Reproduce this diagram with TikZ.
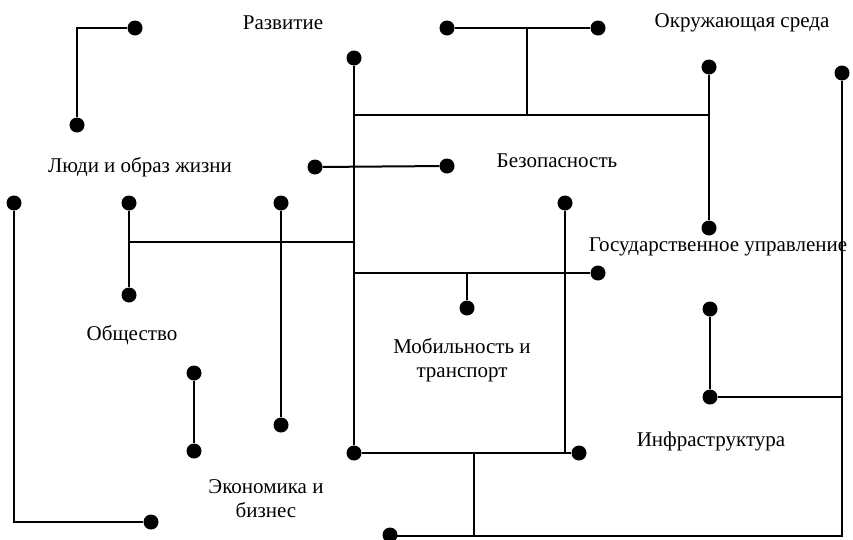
\documentclass[tikz,border=0pt]{standalone}
\usepackage{fontspec}
\setmainfont{Liberation Serif}
\begin{document}
\begin{tikzpicture}[x=1pt,y=-1pt,
  dot/.style={circle,fill=black,inner sep=0pt,minimum size=15pt},
  lbl/.style={font=\fontsize{21}{24}\selectfont,align=center,inner sep=0pt},
  conn/.style={line width=2pt}]
\useasboundingbox (0,0) rectangle (853,539);
% dots
\node[dot] (a) at (135,28) {};
\node[dot] (b) at (77,125) {};
\node[dot] (c) at (354,58) {};
\node[dot] (d) at (354,453) {};
\node[dot] (e) at (447,28) {};
\node[dot] (f) at (598,28) {};
\node[dot] (g) at (709,67) {};
\node[dot] (h) at (709,228) {};
\node[dot] (i) at (842,73) {};
\node[dot] (j) at (315,167) {};
\node[dot] (k) at (447,166) {};
\node[dot] (l) at (14,203) {};
\node[dot] (m) at (151,522) {};
\node[dot] (n) at (129,203) {};
\node[dot] (o) at (129,295) {};
\node[dot] (p) at (281,203) {};
\node[dot] (q) at (281,425) {};
\node[dot] (r) at (565,203) {};
\node[dot] (s) at (598,273) {};
\node[dot] (t) at (467,308) {};
\node[dot] (u) at (710,309) {};
\node[dot] (v) at (710,397) {};
\node[dot] (w) at (194,373) {};
\node[dot] (x) at (194,451) {};
\node[dot] (y) at (579,453) {};
\node[dot] (z) at (390,535) {};
% junction coordinates
\coordinate (ef) at (527,28);
\coordinate (top1) at (527,115);
\coordinate (c1) at (354,115);
\coordinate (g1) at (709,115);
\coordinate (i1) at (842,536);
\coordinate (z1) at (390,536);
\coordinate (n1) at (129,242);
\coordinate (c2) at (354,242);
\coordinate (c3) at (354,273);
\coordinate (t1) at (467,273);
\coordinate (r1) at (565,453);
\coordinate (v1) at (842,397);
\coordinate (d1) at (474,453);
\coordinate (d2) at (474,536);
% connectors
\draw[conn] (b) |- (a);
\draw[conn] (c) -- (d);
\draw[conn] (e) -- (f);
\draw[conn] (ef) -- (top1);
\draw[conn] (c1) -- (g1);
\draw[conn] (g) -- (h);
\draw[conn] (i) -- (i1) -- (z1) -- (z);
\draw[conn] (j) -- (k);
\draw[conn] (l) |- (m);
\draw[conn] (n) -- (o);
\draw[conn] (n1) -- (c2);
\draw[conn] (p) -- (q);
\draw[conn] (r) -- (r1);
\draw[conn] (c3) -- (s);
\draw[conn] (t1) -- (t);
\draw[conn] (u) -- (v);
\draw[conn] (v) -- (v1);
\draw[conn] (w) -- (x);
\draw[conn] (d) -- (y);
\draw[conn] (d1) -- (d2);
% labels
\node[lbl] (l1) at (283,23) {Развитие};
\node[lbl] (l2) at (742,23) {Окружающая среда};
\node[lbl] (l3) at (140,167) {Люди и образ жизни};
\node[lbl] (l4) at (557,161) {Безопасность};
\node[lbl] (l5) at (718,247) {Государственное управление};
\node[lbl] (l6) at (132,335) {Общество};
\node[lbl] (l7) at (462,360) {Мобильность и\\транспорт};
\node[lbl] (l8) at (711,441) {Инфраструктура};
\node[lbl] (l9) at (266,499) {Экономика и\\бизнес};
\end{tikzpicture}
\end{document}
